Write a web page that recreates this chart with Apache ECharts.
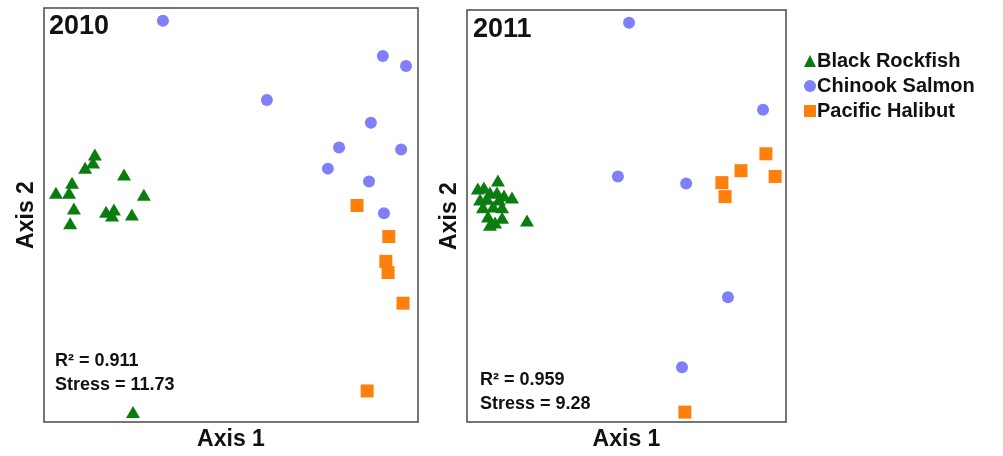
<!DOCTYPE html>
<html>
<head>
<meta charset="UTF-8">
<title></title>
<script src="https://cdn.jsdelivr.net/npm/echarts@6/dist/echarts.min.js"></script>
<style type="text/css">
  *{margin:0;padding:0;}
  #main{width:1003px;height:456px;background:#fff;}
</style>
</head>
<body>
<div id="main"></div>
<script type="text/javascript">
// NMDS scores, axis units 0-100
var rockfish2010 = [[13.6,64.6],[13.1,62.7],[11.0,61.4],[21.4,59.8],[7.5,57.8],[3.2,55.4],[6.7,55.4],[26.7,54.9],[8.0,51.6],[16.6,50.8],[18.7,51.3],[18.2,49.9],[23.5,50.1],[7.0,48.0],[23.8,2.4]];
var chinook2010 = [[31.8,96.9],[90.6,88.4],[96.8,86.0],[59.6,77.8],[87.4,72.3],[78.9,66.3],[95.5,65.8],[75.9,61.2],[86.9,58.1],[90.9,50.4]];
var halibut2010 = [[83.7,52.3],[92.2,44.8],[91.4,38.8],[92.0,36.1],[96.0,28.7],[86.4,7.5]];

var rockfish2011 = [[9.7,58.6],[3.4,56.7],[5.3,56.9],[7.2,55.7],[9.4,55.7],[11.6,55.0],[14.1,54.5],[4.1,54.0],[6.3,54.2],[10.0,54.0],[5.0,52.1],[8.2,52.3],[11.0,52.1],[6.6,49.9],[11.0,49.6],[8.8,48.4],[7.2,47.9],[18.8,48.9]];
var chinook2011 = [[50.8,96.9],[92.8,75.8],[47.3,59.6],[68.7,57.9],[81.8,30.3],[67.4,13.3]];
var halibut2011 = [[93.7,65.1],[85.9,61.0],[96.6,59.6],[79.9,58.1],[80.9,54.7],[68.3,2.4]];

var speciesNames = ['Black Rockfish','Chinook Salmon','Pacific Halibut'];
var yearLabels = ['2010','2011'];
var statLabels = [['R² = 0.911','Stress = 11.73'],['R² = 0.959','Stress = 9.28']];

var colors = ['#0b7d10','#7f7ff8','#fd7f0c'];
var symbols = ['triangle','circle','rect'];
var sizes = [[14,12],12,13];
var font = 'Arial, "Liberation Sans", sans-serif';

function makeAxis(idx, name){
    return {
        type:'value', gridIndex:idx, min:0, max:100,
        name:name, nameLocation:'middle', nameGap:6,
        nameTextStyle:{fontSize:23,fontWeight:'bold',color:'#111',fontFamily:font},
        axisLine:{show:false}, axisTick:{show:false},
        axisLabel:{show:false}, splitLine:{show:false}
    };
}

var panels = [[rockfish2010,chinook2010,halibut2010],[rockfish2011,chinook2011,halibut2011]];
var series = [];
for(var p=0;p<2;p++){
    for(var s=0;s<3;s++){
        series.push({
            name:speciesNames[s], type:'scatter',
            xAxisIndex:p, yAxisIndex:p,
            symbol:symbols[s], symbolSize:sizes[s],
            itemStyle:{color:colors[s],opacity:1},
            data:panels[p][s]
        });
    }
}

var myChart = echarts.init(document.getElementById('main'));
var option = {
    animation:false,
    grid:[
        {left:44, top:8, width:374, height:415, show:true, borderColor:'#4a4a4a', borderWidth:1.5},
        {left:467, top:10, width:319, height:413, show:true, borderColor:'#4a4a4a', borderWidth:1.5}
    ],
    xAxis:[makeAxis(0,'Axis 1'), makeAxis(1,'Axis 1')],
    yAxis:[makeAxis(0,'Axis 2'), makeAxis(1,'Axis 2')],
    legend:{
        orient:'vertical', left:799, top:46, itemGap:5,
        itemWidth:12, itemHeight:12,
        data:[
            {name:speciesNames[0], icon:'triangle'},
            {name:speciesNames[1], icon:'circle'},
            {name:speciesNames[2], icon:'rect'}
        ],
        textStyle:{fontSize:20,fontWeight:'bold',color:'#111',fontFamily:font,padding:[0,0,0,-4]}
    },
    graphic:[
        {type:'text', left:49, top:13, style:{text:yearLabels[0], font:'bold 27px '+font, fill:'#111'}},
        {type:'text', left:473, top:16, style:{text:yearLabels[1], font:'bold 27px '+font, fill:'#111'}},
        {type:'text', left:55, top:349, style:{text:statLabels[0][0]+'\n'+statLabels[0][1], font:'bold 18px '+font, lineHeight:24, fill:'#111'}},
        {type:'text', left:480, top:368, style:{text:statLabels[1][0]+'\n'+statLabels[1][1], font:'bold 18px '+font, lineHeight:24, fill:'#111'}}
    ],
    series:series
};
myChart.setOption(option);
</script>
</body>
</html>
